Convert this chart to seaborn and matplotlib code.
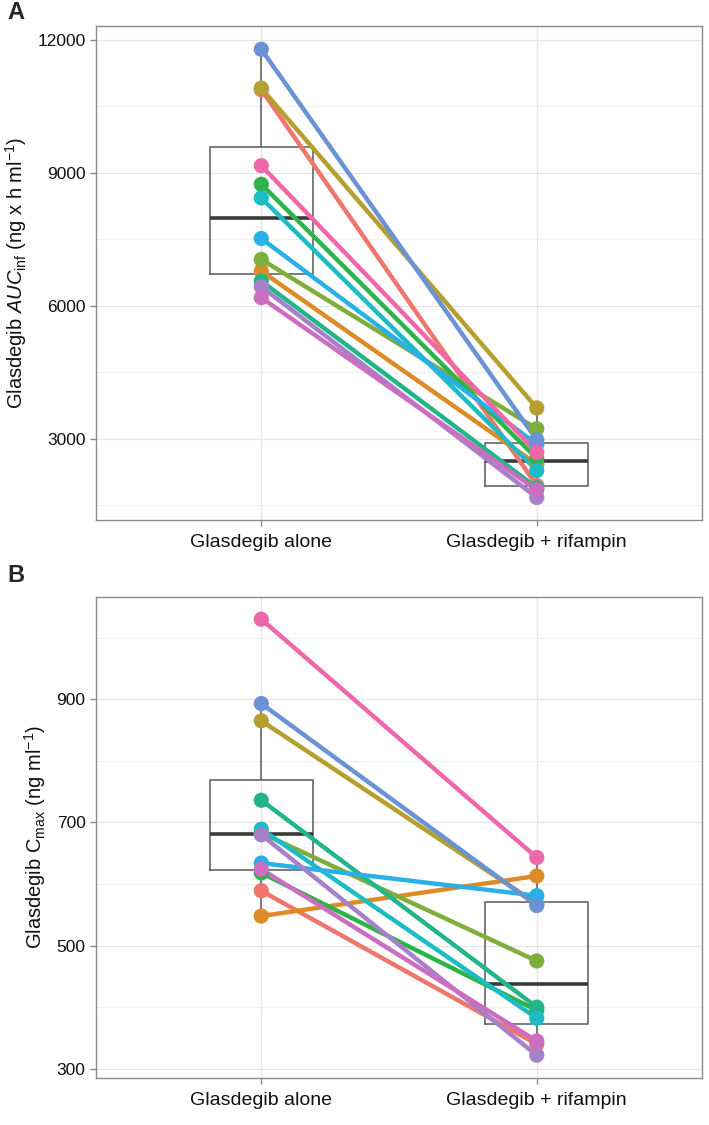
import numpy as np
import pandas as pd
import matplotlib
matplotlib.use("Agg")
import matplotlib.pyplot as plt
import seaborn as sns
from matplotlib.ticker import FixedLocator

# subjects, one colour each (ggplot-like hue palette, slightly muted like the print)
subjects = ["S01", "S02", "S03", "S04", "S05", "S06", "S07", "S08", "S09", "S10", "S11", "S12"]
colors = ["#EE766C", "#DD8B26", "#B59F2E", "#7FAE3C", "#2DB34A", "#23B58A",
          "#1DBCC4", "#2AB0E6", "#6A92D4", "#A680C8", "#CB6EC2", "#EE67A8"]
conditions = ["Glasdegib alone", "Glasdegib + rifampin"]

# panel A: AUCinf (ng x h/ml)
auc_alone = [10880, 6787, 10912, 7050, 8745, 6562, 8437, 7522, 11790, 6435, 6187, 9165]
auc_rif = [1950, 2430, 3700, 3230, 2560, 1900, 2290, 2880, 2980, 1680, 1850, 2700]
auc_ticks = [3000, 6000, 9000, 12000]
auc_minor = [1500, 4500, 7500, 10500]

# panel B: Cmax (ng/ml)
cmax_alone = [589, 548, 865, 683, 618, 736, 689, 634, 893, 680, 624, 1030]
cmax_rif = [340, 613, 568, 475, 395, 400, 382, 581, 565, 322, 345, 643]
cmax_ticks = [300, 500, 700, 900]
cmax_minor = [400, 600, 800, 1000]

sns.set_theme(style="white")
plt.rcParams['font.family'] = ['Liberation Sans', 'DejaVu Sans']
plt.rcParams['mathtext.fontset'] = 'custom'
plt.rcParams['mathtext.rm'] = 'Liberation Sans'
plt.rcParams['mathtext.it'] = 'Liberation Sans:italic'


def make_df(alone, rif):
    df = pd.DataFrame({"subject": subjects * 2,
                       "condition": [conditions[0]] * 12 + [conditions[1]] * 12,
                       "value": list(alone) + list(rif)})
    return df


def panel(ax, df, ylim, major, minor, ylabel):
    sns.boxplot(data=df, x="condition", y="value", order=conditions, ax=ax,
                width=0.375, showfliers=False, fill=False, color="#666666",
                linewidth=1.2, capwidths=0,
                medianprops={"color": "#3a3a3a", "linewidth": 2.6},
                zorder=1)
    sns.lineplot(data=df, x="condition", y="value", hue="subject", hue_order=subjects,
                 palette=colors, linewidth=3.2, legend=False, sort=False, ax=ax,
                 zorder=3, estimator=None)
    sns.scatterplot(data=df, x="condition", y="value", hue="subject", hue_order=subjects,
                    palette=colors, s=120, linewidth=0, legend=False, ax=ax, zorder=4)
    ax.set_xlim(-0.6, 1.6)
    ax.set_ylim(*ylim)
    ax.yaxis.set_major_locator(FixedLocator(major))
    ax.yaxis.set_minor_locator(FixedLocator(minor))
    ax.grid(True, which="major", color="#e6e6e6", linewidth=1.0, zorder=0)
    ax.grid(True, which="minor", axis="y", color="#f0f0f0", linewidth=0.8, zorder=0)
    ax.set_axisbelow(True)
    for sp in ax.spines.values():
        sp.set_color("#8c8c8c")
        sp.set_linewidth(1.0)
    ax.tick_params(axis="both", which="major", length=4, width=1, color="#8c8c8c",
                   labelcolor="#111111", bottom=True, left=True)
    ax.tick_params(axis="x", labelsize=14, pad=6)
    ax.tick_params(axis="y", labelsize=12.5)
    ax.tick_params(axis="y", which="minor", length=0)
    ax.set_xlabel("")
    ax.set_ylabel(ylabel, fontsize=14.5, color="#111111", labelpad=6)


fig = plt.figure(figsize=(7.09, 11.25), dpi=100)
ax1 = fig.add_axes([0.1354, 0.5378, 0.8548, 0.4391])
ax2 = fig.add_axes([0.1354, 0.0418, 0.8548, 0.4275])

panel(ax1, make_df(auc_alone, auc_rif), (1173, 12315), auc_ticks, auc_minor,
      r"Glasdegib $\mathit{AUC}_{\mathrm{inf}}$ (ng x h ml$^{-1}$)")
panel(ax2, make_df(cmax_alone, cmax_rif), (285, 1066), cmax_ticks, cmax_minor,
      r"Glasdegib C$_{\mathrm{max}}$ (ng ml$^{-1}$)")

fig.text(0.010, 0.999, "A", fontsize=17, fontweight="bold", va="top", ha="left")
fig.text(0.010, 0.499, "B", fontsize=17, fontweight="bold", va="top", ha="left")

fig.savefig("out.png", dpi=100, facecolor="white")
